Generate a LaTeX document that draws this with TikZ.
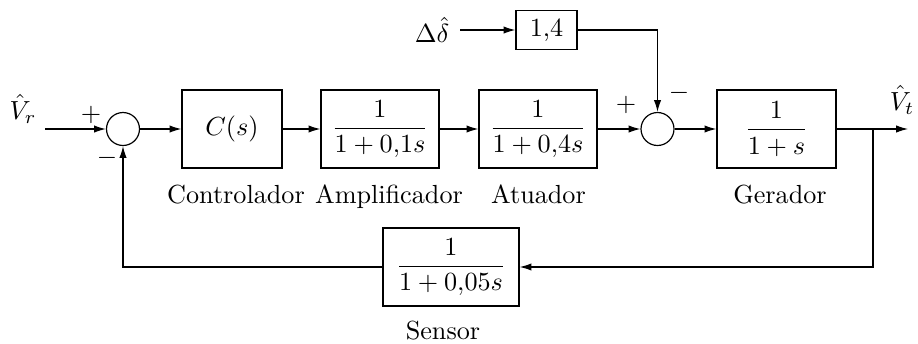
\documentclass[tikz,border=0pt]{standalone}
\usepackage{amsmath}
\usetikzlibrary{arrows.meta}
\begin{document}
\begin{tikzpicture}[x=0.382pt,y=-0.382pt,
  blk/.style={draw,line width=0.45pt,inner sep=0pt,minimum height=29.8pt},
  sumc/.style={draw,line width=0.45pt,circle,inner sep=0pt,minimum size=12.6pt},
  sig/.style={line width=0.45pt,-{Latex[length=4.5pt,width=2.8pt]}},
  lbl/.style={anchor=base,inner sep=0pt}]
\useasboundingbox (0,0) rectangle (918,343);
% nodes
\node[sumc] (s1) at (123,129) {};
\node[blk,minimum width=38.2pt] (c) at (232,129) {$C(s)$};
\node[blk,minimum width=45.1pt] (amp) at (380,129) {$\dfrac{1}{1+0{,}1s}$};
\node[blk,minimum width=45.1pt] (act) at (538,129) {$\dfrac{1}{1+0{,}4s}$};
\node[sumc] (s2) at (657.5,129) {};
\node[blk,minimum width=45.5pt] (gen) at (776.5,129) {$\dfrac{1}{1+s}$};
\node[blk,minimum width=52pt] (sen) at (451,267) {$\dfrac{1}{1+0{,}05s}$};
\node[blk,minimum width=23.3pt,minimum height=14.9pt] (k) at (546.5,30) {1,4};
\node[inner sep=0pt] (dd) at (432,30) {$\Delta\hat\delta$};
\node[inner sep=0pt] (vr) at (23,109) {$\hat V_r$};
\node[inner sep=0pt] (vt) at (902,100) {$\hat V_t$};
% signs
\node[inner sep=0pt] (p1) at (91,115) {$+$};
\node[inner sep=0pt] (m1) at (107,158) {$-$};
\node[inner sep=0pt] (p2) at (626,105) {$+$};
\node[inner sep=0pt] (m2) at (679,93) {$-$};
% labels
\node[lbl] (lc) at (236,203) {Controlador};
\node[lbl] (la) at (389,203) {Amplificador};
\node[lbl] (lt) at (538.5,203) {Atuador};
\node[lbl] (lg) at (780,203) {Gerador};
\node[lbl] (ls) at (443,339) {Sensor};
% coordinates
\coordinate (in) at (45,129);
\coordinate (ddo) at (460,30);
\coordinate (br) at (873,129);
\coordinate (out) at (908,129);
% connectors
\draw[sig] (in) -- (s1.west);
\draw[sig] (s1.east) -- (c.west);
\draw[sig] (c.east) -- (amp.west);
\draw[sig] (amp.east) -- (act.west);
\draw[sig] (act.east) -- (s2.west);
\draw[sig] (s2.east) -- (gen.west);
\draw[sig] (gen.east) -- (out);
\draw[sig] (ddo) -- (k.west);
\draw[sig] (k.east) -| (s2.north);
\draw[sig] (br) |- (sen.east);
\draw[sig] (sen.west) -| (s1.south);
\end{tikzpicture}
\end{document}
